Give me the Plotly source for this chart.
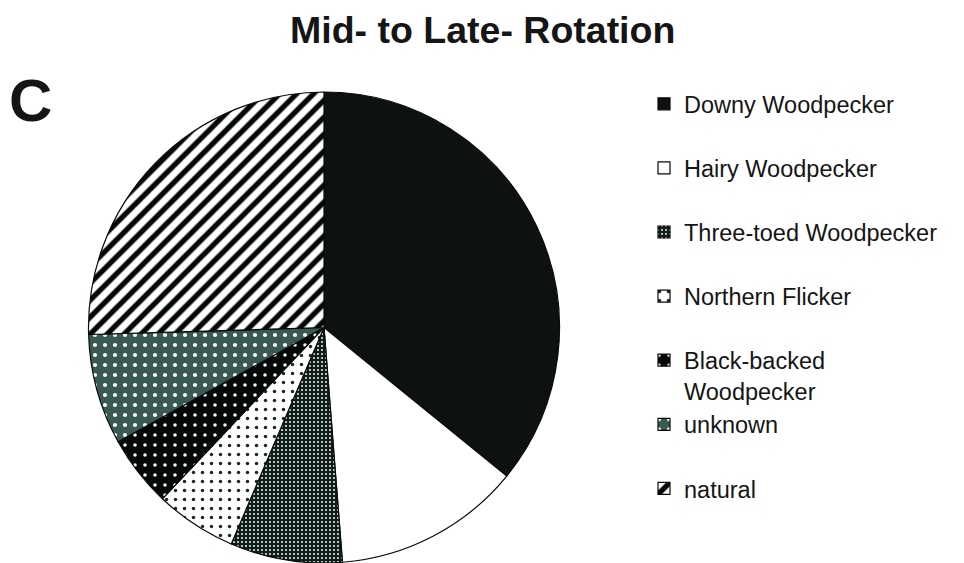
import plotly.graph_objects as go

W, H = 964, 563

# Share of nest cavities by excavator (percent)
labels = [
    "Downy Woodpecker",
    "Hairy Woodpecker",
    "Three-toed Woodpecker",
    "Northern Flicker",
    "Black-backed<br>Woodpecker",
    "unknown",
    "natural",
]
shares = [35.9, 12.9, 7.7, 5.6, 4.9, 7.6, 25.5]

# Fill styles per slice
fill_colors = ["#0d1111", "#ffffff", "#0f1c1a", "#ffffff", "#050808", "#3b5953", "#ffffff"]
pattern_shapes = ["", "", ".", ".", ".", ".", "/"]
pattern_fg = ["#0d1111", "#ffffff", "#dfe9e6", "#1c2a27", "#f0f4f3", "#f4f8f7", "#050808"]
pattern_size = [8, 8, 4, 9, 10, 10, 12]
pattern_solid = [0.3, 0.3, 0.22, 0.12, 0.1, 0.14, 0.45]

fig = go.Figure(
    go.Pie(
        labels=[lab + ("" if "<br>" in lab else "<br> ") for lab in labels],
        values=shares,
        sort=False,
        direction="clockwise",
        rotation=0,
        textinfo="none",
        hoverinfo="label+percent",
        marker=dict(
            colors=fill_colors,
            line=dict(color="#0a0a0a", width=1.2),
            pattern=dict(
                shape=pattern_shapes,
                fgcolor=pattern_fg,
                bgcolor=fill_colors,
                size=pattern_size,
                solidity=pattern_solid,
                fillmode="replace",
            ),
        ),
        domain=dict(x=[88 / W, 560 / W], y=[0.0, (H - 92) / H]),
    )
)

fig.update_layout(
    width=W,
    height=H,
    margin=dict(l=0, r=0, t=0, b=0),
    paper_bgcolor="white",
    plot_bgcolor="white",
    font=dict(family="Liberation Sans, Arial, sans-serif", color="#151515"),
    showlegend=True,
    legend=dict(
        x=644 / W,
        xanchor="left",
        y=(H - 82) / H,
        yanchor="top",
        valign="top",
        font=dict(size=23.5, color="#151515"),
        bgcolor="rgba(0,0,0,0)",
        borderwidth=0,
        traceorder="normal",
    ),
    annotations=[
        dict(
            text="<b>Mid- to Late- Rotation</b>",
            x=482 / W, y=(H - 30) / H,
            xref="paper", yref="paper",
            xanchor="center", yanchor="middle",
            showarrow=False,
            font=dict(size=37.5, color="#151515"),
        ),
        dict(
            text="<b>C</b>",
            x=30 / W, y=(H - 100) / H,
            xref="paper", yref="paper",
            xanchor="center", yanchor="middle",
            showarrow=False,
            font=dict(size=60, color="#151515"),
        ),
    ],
)

fig.write_html("out.html")
